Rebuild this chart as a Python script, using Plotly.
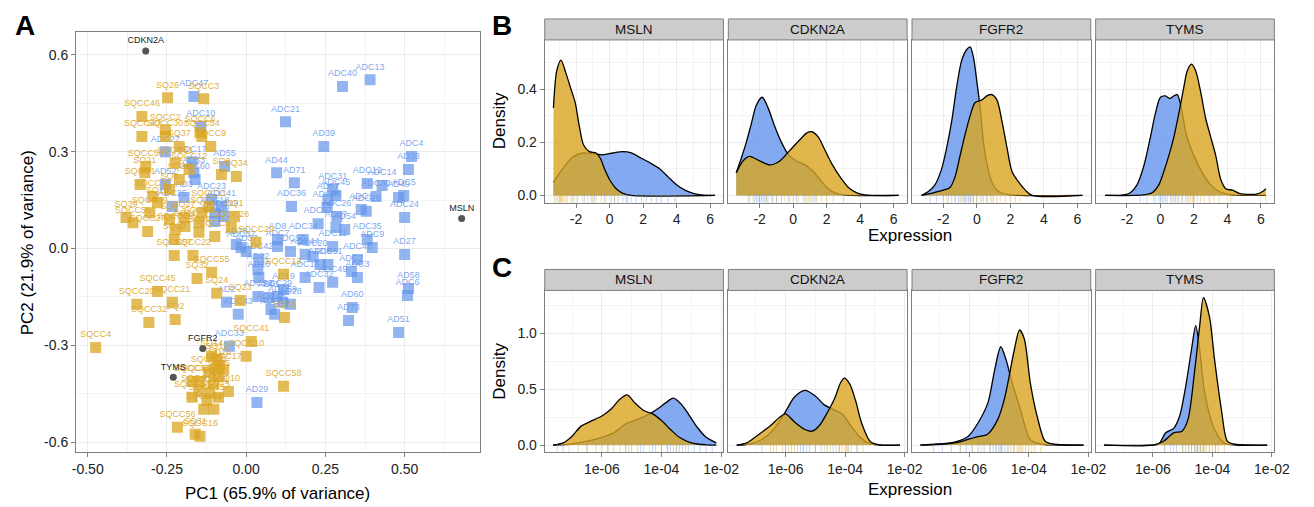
import plotly.graph_objects as go

W, H = 1314, 507
OFF = 8  # default page body margin of the written HTML
FW, FH = W - OFF, H - OFF
BLUE = "100,149,237"
GOLD = "218,165,32"
FONT = "Liberation Sans, Arial, Helvetica, sans-serif"

# ---------------- Panel A: PCA scores ----------------
adc_labels = ["ADC13", "ADC40", "ADC21", "AD39", "ADC4", "AD33", "AD44", "AD71", "ADC31", "ADC45",
              "ADC36", "AD57", "ADC38", "ADC26", "ADC57", "AD54", "AD67", "ADC12", "ADC14", "ADC30",
              "AD40", "ADC5", "ADC1", "ADC28", "ADC24", "AD27", "AD58", "ADC6", "AD51", "AD60",
              "AD73", "AD29", "ADC35", "ADC9", "ADC46", "ADC3", "ADC2", "ADC49", "ADC32", "ADC16",
              "ADC51", "ADC20", "ADC44", "ADC11", "ADC34", "AD8", "ADC7", "ADC42", "AD37", "AD22",
              "AD10", "AD61", "ADC48", "ADC59", "AD28", "ADC29", "ADC43", "AD2", "ADC52", "ADC33",
              "ADC47", "ADC10", "ADC27", "ADC17", "AD55", "AD53", "ADC60", "AD52", "AD3", "ADC23",
              "ADC41", "ADC18", "ADC25", "ADC19", "ADC39", "AD78", "ADC37", "ADC50", "ADC8", "AD19",
              "ADC15"]
adc_pc1 = [0.391, 0.304, 0.124, 0.245, 0.522, 0.512, 0.096, 0.152, 0.273, 0.283,
           0.143, 0.258, 0.255, 0.286, 0.227, 0.311, 0.283, 0.382, 0.429, 0.410,
           0.481, 0.497, 0.363, 0.379, 0.500, 0.500, 0.512, 0.509, 0.481, 0.335,
           0.323, 0.034, 0.382, 0.398, 0.351, 0.351, 0.332, 0.273, 0.230, 0.186,
           0.258, 0.211, 0.186, 0.273, 0.180, 0.099, 0.099, 0.040, 0.000, 0.037,
           0.040, 0.071, 0.078, 0.115, 0.140, 0.099, -0.025, -0.062, 0.037, -0.053,
           -0.165, -0.143, -0.255, -0.171, -0.068, -0.165, -0.161, -0.255, -0.196, -0.109,
           -0.078, -0.099, -0.233, -0.071, -0.099, -0.031, -0.016, 0.140, 0.233, 0.118,
           0.090]
adc_pc2 = [0.523, 0.502, 0.393, 0.316, 0.285, 0.245, 0.235, 0.204, 0.183, 0.164,
           0.130, 0.152, 0.127, 0.099, 0.077, 0.059, 0.065, 0.201, 0.195, 0.161,
           0.158, 0.164, 0.121, 0.115, 0.096, -0.019, -0.124, -0.146, -0.260, -0.183,
           -0.223, -0.477, 0.028, 0.003, -0.034, -0.090, -0.071, -0.105, -0.121, -0.090,
           -0.050, -0.025, -0.019, 0.006, 0.028, 0.028, 0.006, -0.034, -0.009, -0.065,
           -0.090, -0.152, -0.189, -0.167, -0.173, -0.149, -0.204, -0.167, -0.149, -0.303,
           0.471, 0.378, 0.300, 0.269, 0.254, 0.235, 0.214, 0.198, 0.158, 0.152,
           0.130, 0.111, 0.130, 0.099, 0.084, 0.012, 0.003, -0.009, -0.050, -0.127,
           -0.204]

sq_labels = ["SQ26", "SQCC3", "SQCC46", "SQCC2", "SQCC40", "SQCC30", "SQCC6", "SQ37", "SQCC54", "SQCC9",
             "SQ34", "SQ9", "SQCC50", "SQ21", "SQCC1", "SQCC12", "SQCC51", "SQ30", "SQCC36", "SQ8",
             "SQ13", "SQ39", "SQCC59", "SQCC39", "SQCC27", "SQCC28", "SQ6", "SQ27", "SQ11", "SQ17",
             "SQCC8", "SQ36", "SQCC5", "SQ19", "SQCC26", "SQ1", "SQCC11", "SQCC22", "SQCC57", "SQCC55",
             "SQ32", "SQ24", "SQ23", "SQCC45", "SQCC21", "SQCC20", "SQCC32", "SQ2", "SQCC4", "SQCC13",
             "SQ33", "SQCC29", "SQCC41", "SQCC10", "SQCC58", "SQ14", "SQ12", "SQ18", "SQ5", "SQCC17",
             "SQCC23", "SQ35", "SQCC33", "SQCC35", "SQ16", "SQ10", "SQCC19", "SQCC38", "SQCC24", "SQ15",
             "SQCC15", "SQCC31", "SQ4", "SQCC56", "SQ31", "SQCC16"]
sq_pc1 = [-0.248, -0.134, -0.329, -0.255, -0.329, -0.255, -0.146, -0.211, -0.140, -0.112,
          -0.031, -0.078, -0.317, -0.320, -0.335, -0.180, -0.224, -0.211, -0.295, -0.242,
          -0.280, -0.379, -0.357, -0.304, -0.311, -0.224, -0.242, -0.196, -0.193, -0.140,
          -0.149, -0.149, -0.099, -0.227, -0.047, -0.037, -0.118, -0.168, -0.227, -0.109,
          -0.155, -0.093, -0.019, -0.280, -0.233, -0.345, -0.307, -0.224, -0.475, 0.118,
          0.121, 0.031, 0.016, 0.000, 0.118, -0.109, -0.093, -0.084, -0.099, -0.071,
          -0.118, -0.087, -0.171, -0.146, -0.102, -0.056, -0.149, -0.115, -0.171, -0.087,
          -0.124, -0.134, -0.102, -0.217, -0.161, -0.146]
sq_pc2 = [0.467, 0.464, 0.409, 0.368, 0.347, 0.347, 0.359, 0.316, 0.347, 0.316,
          0.223, 0.229, 0.254, 0.235, 0.198, 0.245, 0.266, 0.214, 0.161, 0.183,
          0.142, 0.096, 0.080, 0.111, 0.053, 0.059, 0.090, 0.096, 0.068, 0.111,
          0.080, 0.050, 0.037, 0.028, 0.065, 0.099, 0.130, -0.022, -0.022, -0.074,
          -0.093, -0.139, -0.161, -0.133, -0.167, -0.173, -0.229, -0.220, -0.307, -0.080,
          -0.214, 0.019, -0.288, -0.334, -0.427, -0.334, -0.344, -0.362, -0.375, -0.375,
          -0.384, -0.396, -0.412, -0.412, -0.418, -0.443, -0.443, -0.446, -0.461, -0.461,
          -0.471, -0.498, -0.498, -0.554, -0.576, -0.582]

gene_labels = ["CDKN2A", "MSLN", "FGFR2", "TYMS"]
gene_pc1 = [-0.317, 0.680, -0.137, -0.230]
gene_pc2 = [0.612, 0.093, -0.310, -0.399]

# ---------------- Panel B: densities (normalised expression) ----------------
b_msln_adc_x = [-3.35, -2.8, -2.2, -1.6, -1.0, -0.4, 0.2, 0.8, 1.3, 1.9, 2.5, 3.0, 3.5, 4.0, 4.5, 5.0, 5.5, 6.3]
b_msln_adc_y = [0.05, 0.10, 0.145, 0.16, 0.158, 0.153, 0.16, 0.165, 0.16, 0.14, 0.12, 0.10, 0.07, 0.04, 0.02, 0.008, 0.002, 0.0]
b_msln_sq_x = [-3.35, -3.15, -2.9, -2.6, -2.3, -2.05, -1.8, -1.55, -1.2, -0.8, -0.55, -0.3, 0.0, 0.4, 0.8, 1.3, 6.3]
b_msln_sq_y = [0.33, 0.47, 0.51, 0.46, 0.40, 0.35, 0.26, 0.19, 0.165, 0.16, 0.14, 0.10, 0.06, 0.025, 0.008, 0.0, 0.0]

b_cdkn2a_adc_x = [-3.4, -3.1, -2.8, -2.5, -2.2, -1.85, -1.5, -1.1, -0.7, -0.3, 0.2, 0.7, 1.2, 1.6, 2.0, 2.5, 3.0, 6.3]
b_cdkn2a_adc_y = [0.085, 0.14, 0.20, 0.27, 0.34, 0.37, 0.33, 0.26, 0.20, 0.155, 0.13, 0.115, 0.09, 0.06, 0.03, 0.01, 0.002, 0.0]
b_cdkn2a_sq_x = [-3.4, -3.0, -2.6, -2.0, -1.4, -0.8, -0.2, 0.4, 0.8, 1.1, 1.5, 1.9, 2.3, 2.8, 3.3, 3.8, 4.3, 6.3]
b_cdkn2a_sq_y = [0.085, 0.13, 0.147, 0.13, 0.115, 0.13, 0.17, 0.21, 0.235, 0.24, 0.22, 0.17, 0.12, 0.07, 0.03, 0.01, 0.002, 0.0]

b_fgfr2_adc_x = [-3.3, -2.9, -2.5, -2.1, -1.8, -1.5, -1.2, -0.9, -0.6, -0.4, -0.2, 0.0, 0.2, 0.4, 0.6, 0.9, 1.3, 1.8, 2.5, 6.3]
b_fgfr2_adc_y = [0.0, 0.015, 0.04, 0.10, 0.18, 0.28, 0.41, 0.51, 0.55, 0.56, 0.52, 0.43, 0.33, 0.20, 0.12, 0.05, 0.015, 0.004, 0.0, 0.0]
b_fgfr2_sq_x = [-3.3, -2.6, -2.0, -1.6, -1.3, -1.0, -0.7, -0.4, -0.1, 0.3, 0.6, 0.9, 1.2, 1.5, 1.8, 2.1, 2.5, 2.9, 3.3, 6.3]
b_fgfr2_sq_y = [0.0, 0.01, 0.02, 0.03, 0.07, 0.15, 0.23, 0.30, 0.35, 0.36, 0.375, 0.38, 0.36, 0.28, 0.18, 0.09, 0.05, 0.02, 0.0, 0.0]

b_tyms_adc_x = [-3.3, -2.2, -1.8, -1.4, -1.0, -0.6, -0.3, 0.0, 0.3, 0.55, 0.8, 1.0, 1.25, 1.5, 1.8, 2.1, 2.5, 3.0, 3.5, 4.0, 4.5, 6.3]
b_tyms_adc_y = [0.0, 0.002, 0.01, 0.04, 0.11, 0.22, 0.31, 0.37, 0.375, 0.365, 0.375, 0.38, 0.33, 0.24, 0.18, 0.135, 0.085, 0.04, 0.015, 0.005, 0.001, 0.0]
b_tyms_sq_x = [-3.3, -1.0, -0.5, -0.1, 0.2, 0.5, 0.8, 1.1, 1.4, 1.6, 1.85, 2.1, 2.4, 2.7, 3.0, 3.3, 3.6, 3.9, 4.3, 4.7, 5.2, 5.8, 6.1, 6.3]
b_tyms_sq_y = [0.0, 0.002, 0.01, 0.04, 0.09, 0.15, 0.22, 0.31, 0.41, 0.47, 0.495, 0.47, 0.39, 0.29, 0.22, 0.15, 0.06, 0.025, 0.02, 0.008, 0.004, 0.006, 0.015, 0.025]

# rug values (normalised expression)
b_msln_adc_rug = [-2.2, -1.5, -1.1, -0.9, -0.3, 0.1, 0.3, 0.5, 0.8, 1.0, 1.1, 1.3, 1.6, 1.9, 2.2, 2.5, 2.8, 3.1, 3.5, 3.9]
b_msln_sq_rug = [-3.3, -3.2, -3.1, -3.0, -2.95, -2.9, -2.85, -2.8, -2.7, -2.6, -2.5, -2.3, -2.1, -1.9, -1.6, -1.3, -1.0, -0.8, -0.5, -0.2, 0.3]
b_cdkn2a_adc_rug = [-2.6, -2.3, -2.2, -2.1, -2.0, -1.9, -1.8, -1.7, -1.6, -1.5, -1.3, -1.2, -1.0, -0.7, -0.3, 0.2, 0.7, 1.3]
b_cdkn2a_sq_rug = [-2.7, -2.4, -2.0, -1.6, -1.0, -0.5, -0.2, 0.0, 0.3, 0.6, 0.8, 0.9, 1.0, 1.1, 1.2, 1.4, 1.7, 2.0, 2.4, 3.0]
b_fgfr2_adc_rug = [-2.8, -2.4, -2.0, -1.7, -1.5, -1.3, -1.1, -0.9, -0.8, -0.7, -0.6, -0.5, -0.4, -0.3, -0.2, 0.0, 0.3, 0.6]
b_fgfr2_sq_rug = [-1.8, -1.3, -1.0, -0.7, -0.4, -0.2, 0.0, 0.2, 0.4, 0.6, 0.8, 0.9, 1.0, 1.2, 1.4, 1.7, 2.0, 2.3, 2.6]
b_tyms_adc_rug = [-1.2, -0.8, -0.4, -0.1, 0.0, 0.1, 0.2, 0.4, 0.6, 0.8, 0.9, 1.1, 1.3, 1.6, 2.0]
b_tyms_sq_rug = [-0.3, 0.3, 0.7, 1.0, 1.3, 1.5, 1.7, 1.8, 1.9, 2.0, 2.2, 2.4, 2.6, 2.9, 3.2, 3.5, 4.2, 6.3]

# ---------------- Panel C: densities (log10 raw expression) ----------------
c_msln_adc_x = [-7.64, -7.0, -6.5, -6.0, -5.6, -5.2, -4.8, -4.4, -4.1, -3.85, -3.6, -3.35, -3.1, -2.8, -2.5, -2.16]
c_msln_adc_y = [0.0, 0.01, 0.035, 0.07, 0.11, 0.19, 0.23, 0.28, 0.33, 0.38, 0.42, 0.37, 0.28, 0.16, 0.07, 0.02]
c_msln_sq_x = [-7.64, -7.3, -7.0, -6.7, -6.4, -6.0, -5.7, -5.4, -5.15, -4.9, -4.6, -4.3, -4.0, -3.7, -3.4, -3.1, -2.8, -2.5, -2.16]
c_msln_sq_y = [0.0, 0.02, 0.08, 0.17, 0.21, 0.26, 0.32, 0.41, 0.45, 0.38, 0.31, 0.28, 0.22, 0.14, 0.07, 0.03, 0.01, 0.003, 0.0]

c_cdkn2a_adc_x = [-7.64, -7.2, -6.8, -6.4, -6.0, -5.7, -5.35, -5.0, -4.7, -4.4, -4.1, -3.8, -3.5, -3.2, -2.9, -2.16]
c_cdkn2a_adc_y = [0.0, 0.01, 0.05, 0.14, 0.30, 0.43, 0.49, 0.44, 0.36, 0.32, 0.28, 0.17, 0.07, 0.015, 0.002, 0.0]
c_cdkn2a_sq_x = [-7.64, -7.3, -6.98, -6.52, -6.2, -6.0, -5.67, -5.35, -5.1, -4.85, -4.6, -4.35, -4.15, -4.03, -3.85, -3.65, -3.45, -3.15, -2.8, -2.16]
c_cdkn2a_sq_y = [0.0, 0.02, 0.08, 0.17, 0.25, 0.28, 0.20, 0.14, 0.125, 0.18, 0.29, 0.42, 0.56, 0.60, 0.55, 0.40, 0.20, 0.03, 0.0, 0.0]

c_fgfr2_adc_x = [-7.64, -7.03, -6.46, -6.03, -5.7, -5.37, -5.14, -4.94, -4.77, -4.55, -4.28, -3.95, -3.6, -3.2, -2.16]
c_fgfr2_adc_y = [0.0, 0.01, 0.03, 0.08, 0.20, 0.38, 0.68, 0.88, 0.77, 0.55, 0.32, 0.05, 0.01, 0.002, 0.0]
c_fgfr2_sq_x = [-7.64, -6.8, -6.3, -5.8, -5.37, -5.04, -4.85, -4.7, -4.48, -4.31, -4.15, -3.95, -3.72, -3.45, -3.2, -2.16]
c_fgfr2_sq_y = [0.0, 0.01, 0.03, 0.07, 0.10, 0.23, 0.38, 0.56, 0.86, 1.03, 0.95, 0.56, 0.26, 0.035, 0.01, 0.0]

c_tyms_adc_x = [-7.64, -6.2, -5.8, -5.57, -5.3, -5.1, -4.9, -4.7, -4.56, -4.43, -4.26, -3.93, -3.6, -3.2, -2.16]
c_tyms_adc_y = [0.0, 0.0, 0.01, 0.11, 0.15, 0.26, 0.52, 0.86, 1.07, 0.86, 0.47, 0.14, 0.02, 0.0, 0.0]
c_tyms_sq_x = [-7.64, -6.0, -5.67, -5.3, -5.02, -4.82, -4.59, -4.43, -4.3, -4.1, -3.93, -3.7, -3.5, -3.3, -2.16]
c_tyms_sq_y = [0.0, 0.0, 0.03, 0.11, 0.125, 0.23, 0.68, 1.06, 1.32, 1.15, 0.77, 0.32, 0.035, 0.01, 0.0]

c_msln_adc_rug = [-7.3, -6.5, -5.8, -5.2, -4.7, -4.3, -4.0, -3.8, -3.7, -3.6, -3.5, -3.4, -3.3, -3.1, -2.9, -2.7, -2.5, -2.3]
c_msln_sq_rug = [-7.5, -7.1, -6.8, -6.5, -6.2, -6.0, -5.8, -5.6, -5.4, -5.2, -5.1, -5.0, -4.8, -4.6, -4.4, -4.2, -4.0, -3.8, -3.5, -3.2]
c_cdkn2a_adc_rug = [-6.4, -6.0, -5.8, -5.6, -5.5, -5.4, -5.3, -5.2, -5.0, -4.8, -4.6, -4.4, -4.2, -3.9, -3.6]
c_cdkn2a_sq_rug = [-6.8, -6.5, -6.3, -6.1, -6.0, -5.9, -5.7, -5.4, -5.0, -4.7, -4.5, -4.3, -4.2, -4.1, -4.0, -3.95, -3.9, -3.8, -3.6, -3.4]
c_fgfr2_adc_rug = [-7.2, -6.9, -6.6, -6.3, -6.1, -5.9, -5.7, -5.5, -5.3, -5.2, -5.1, -5.0, -4.95, -4.9, -4.8, -4.7, -4.5]
c_fgfr2_sq_rug = [-6.3, -5.9, -5.6, -5.3, -5.1, -4.9, -4.7, -4.6, -4.5, -4.4, -4.35, -4.3, -4.25, -4.2, -4.1, -4.0, -3.9, -3.8, -3.6]
c_tyms_adc_rug = [-5.6, -5.4, -5.2, -5.0, -4.9, -4.8, -4.7, -4.6, -4.55, -4.5, -4.4, -4.3, -4.1, -3.9]
c_tyms_sq_rug = [-5.6, -5.3, -5.0, -4.8, -4.7, -4.6, -4.5, -4.45, -4.4, -4.35, -4.3, -4.25, -4.2, -4.1, -4.0, -3.9, -3.8, -3.6]

facet_genes = ["MSLN", "CDKN2A", "FGFR2", "TYMS"]
b_tick_vals = [-2, 0, 2, 4, 6]
b_tick_text = ["-2", "0", "2", "4", "6"]
c_tick_vals = [-6, -4, -2]
c_tick_text = ["1e-06", "1e-04", "1e-02"]

b_curves = [
    (b_msln_adc_x, b_msln_adc_y, b_msln_sq_x, b_msln_sq_y, b_msln_adc_rug, b_msln_sq_rug),
    (b_cdkn2a_adc_x, b_cdkn2a_adc_y, b_cdkn2a_sq_x, b_cdkn2a_sq_y, b_cdkn2a_adc_rug, b_cdkn2a_sq_rug),
    (b_fgfr2_adc_x, b_fgfr2_adc_y, b_fgfr2_sq_x, b_fgfr2_sq_y, b_fgfr2_adc_rug, b_fgfr2_sq_rug),
    (b_tyms_adc_x, b_tyms_adc_y, b_tyms_sq_x, b_tyms_sq_y, b_tyms_adc_rug, b_tyms_sq_rug),
]
c_curves = [
    (c_msln_adc_x, c_msln_adc_y, c_msln_sq_x, c_msln_sq_y, c_msln_adc_rug, c_msln_sq_rug),
    (c_cdkn2a_adc_x, c_cdkn2a_adc_y, c_cdkn2a_sq_x, c_cdkn2a_sq_y, c_cdkn2a_adc_rug, c_cdkn2a_sq_rug),
    (c_fgfr2_adc_x, c_fgfr2_adc_y, c_fgfr2_sq_x, c_fgfr2_sq_y, c_fgfr2_adc_rug, c_fgfr2_sq_rug),
    (c_tyms_adc_x, c_tyms_adc_y, c_tyms_sq_x, c_tyms_sq_y, c_tyms_adc_rug, c_tyms_sq_rug),
]


def px_x(px):
    return (px - OFF) / FW


def px_y(py):
    return 1 - (py - OFF) / FH


# ---------------- Build figure ----------------
fig = go.Figure()

# Panel A
fig.add_trace(go.Scatter(x=adc_pc1, y=adc_pc2, mode="markers+text", text=adc_labels,
                         textposition="top center",
                         textfont=dict(size=9, color=f"rgba({BLUE},0.85)", family=FONT),
                         marker=dict(symbol="square", size=11, color=f"rgba({BLUE},0.7)", line=dict(width=0)),
                         xaxis="x", yaxis="y", showlegend=False, hoverinfo="text"))
fig.add_trace(go.Scatter(x=sq_pc1, y=sq_pc2, mode="markers+text", text=sq_labels,
                         textposition="top center",
                         textfont=dict(size=9, color=f"rgba({GOLD},0.9)", family=FONT),
                         marker=dict(symbol="square", size=11, color=f"rgba({GOLD},0.75)", line=dict(width=0)),
                         xaxis="x", yaxis="y", showlegend=False, hoverinfo="text"))
fig.add_trace(go.Scatter(x=gene_pc1, y=gene_pc2, mode="markers+text", text=gene_labels,
                         textposition="top center",
                         textfont=dict(size=9, color="#222222", family=FONT),
                         marker=dict(symbol="circle", size=7, color="#555555"),
                         xaxis="x", yaxis="y", showlegend=False, hoverinfo="text"))


def add_facets(curves, axis_offset, rug_y):
    for i, (ax_, ay_, sx_, sy_, ar_, sr_) in enumerate(curves):
        n = axis_offset + i
        xa, ya = f"x{n}", f"y{n}"
        fig.add_trace(go.Scatter(x=ax_, y=ay_, mode="lines", fill="tozeroy",
                                 line=dict(color="black", width=1.3, shape="spline", smoothing=0.8),
                                 fillcolor=f"rgba({BLUE},0.8)", xaxis=xa, yaxis=ya,
                                 showlegend=False, hoverinfo="skip"))
        fig.add_trace(go.Scatter(x=sx_, y=sy_, mode="lines", fill="tozeroy",
                                 line=dict(color="black", width=1.3, shape="spline", smoothing=0.8),
                                 fillcolor=f"rgba({GOLD},0.8)", xaxis=xa, yaxis=ya,
                                 showlegend=False, hoverinfo="skip"))
        fig.add_trace(go.Scatter(x=ar_, y=[rug_y] * len(ar_), mode="markers",
                                 marker=dict(symbol="line-ns-open", size=7, color=f"rgba({BLUE},0.4)",
                                             line=dict(width=1, color=f"rgba({BLUE},0.4)")),
                                 xaxis=xa, yaxis=ya, showlegend=False, hoverinfo="skip"))
        fig.add_trace(go.Scatter(x=sr_, y=[rug_y] * len(sr_), mode="markers",
                                 marker=dict(symbol="line-ns-open", size=7, color=f"rgba({GOLD},0.4)",
                                             line=dict(width=1, color=f"rgba({GOLD},0.4)")),
                                 xaxis=xa, yaxis=ya, showlegend=False, hoverinfo="skip"))


add_facets(b_curves, 2, -0.014)
add_facets(c_curves, 6, -0.032)

GRID = "#ebebeb"
MINOR = "#f4f4f4"
BORDER = "#7f7f7f"
TICKFONT = dict(size=14, color="#222222", family=FONT)


def axis(domain, rng, tickvals, ticktext, minor_vals, anchor, show_labels=True):
    return dict(domain=domain, range=rng, tickmode="array", tickvals=tickvals, ticktext=ticktext,
                showticklabels=show_labels, ticks="outside" if show_labels else "",
                ticklen=4, tickcolor=BORDER, tickwidth=1,
                showgrid=True, gridcolor=GRID, gridwidth=1, zeroline=False,
                showline=True, mirror=True, linecolor=BORDER, linewidth=1,
                minor=dict(tickmode="array", tickvals=minor_vals, showgrid=True, gridcolor=MINOR, ticks=""),
                tickfont=TICKFONT, anchor=anchor, fixedrange=True)


layout = dict(width=FW, height=FH, margin=dict(l=0, r=0, t=0, b=0),
              paper_bgcolor="white", plot_bgcolor="white", showlegend=False,
              font=dict(family=FONT))

layout["xaxis"] = axis([px_x(73), px_x(483)], [-0.537, 0.737], [-0.5, -0.25, 0, 0.25, 0.5],
                       ["-0.50", "-0.25", "0.00", "0.25", "0.50"], [-0.375, -0.125, 0.125, 0.375, 0.625], "y")
layout["yaxis"] = axis([px_y(453), px_y(32)], [-0.631, 0.671], [-0.6, -0.3, 0, 0.3, 0.6],
                       ["-0.6", "-0.3", "0.0", "0.3", "0.6"], [-0.45, -0.15, 0.15, 0.45], "x")

lefts = [549, 735.5, 922, 1108.5]
fw = 181.5
b_dom = [px_y(203), px_y(40)]
c_dom = [px_y(453), px_y(291)]
shapes = []
annotations = []
for i, l in enumerate(lefts):
    xd = [px_x(l), px_x(l + fw)]
    nb, nc = 2 + i, 6 + i
    layout[f"xaxis{nb}"] = axis(xd, [-3.87, 6.80], b_tick_vals, b_tick_text, [-3, -1, 1, 3, 5], f"y{nb}")
    layout[f"yaxis{nb}"] = axis(b_dom, [-0.027, 0.586], [0, 0.2, 0.4], ["0.0", "0.2", "0.4"],
                                [0.1, 0.3, 0.5], f"x{nb}", show_labels=(i == 0))
    layout[f"xaxis{nc}"] = axis(xd, [-7.92, -1.92], c_tick_vals, c_tick_text, [-7, -5, -3], f"y{nc}")
    layout[f"yaxis{nc}"] = axis(c_dom, [-0.0625, 1.384], [0, 0.5, 1.0], ["0.0", "0.5", "1.0"],
                                [0.25, 0.75, 1.25], f"x{nc}", show_labels=(i == 0))
    for (top, bot) in [(19, 40), (270, 291)]:
        shapes.append(dict(type="rect", xref="paper", yref="paper", x0=xd[0], x1=xd[1],
                           y0=px_y(bot), y1=px_y(top), fillcolor="#cccccc",
                           line=dict(color=BORDER, width=1), layer="above"))
        annotations.append(dict(x=(xd[0] + xd[1]) / 2, y=px_y((top + bot) / 2), xref="paper", yref="paper",
                                text=facet_genes[i], showarrow=False,
                                font=dict(size=13.5, color="#111111", family=FONT),
                                xanchor="center", yanchor="middle"))


def ann(text, x, y, size, angle=0, bold=False, yanchor="middle"):
    t = f"<b>{text}</b>" if bold else text
    annotations.append(dict(x=px_x(x), y=min(px_y(y), 1.0), xref="paper", yref="paper", text=t,
                            showarrow=False, textangle=angle,
                            font=dict(size=size, color="black", family=FONT),
                            xanchor="center", yanchor=yanchor))


# panel letters: top of the text box sits at the top of the figure area
ann("A", 21, 8, 28, bold=True, yanchor="top")
ann("B", 506, 8, 28, bold=True, yanchor="top")
ann("C", 506, 268, 28, bold=True)
ann("PC1 (65.9% of variance)", 278, 494, 17)
ann("PC2 (21.9% of variance)", 24, 243, 17, angle=-90)
ann("Density", 503, 121, 17, angle=-90)
ann("Density", 503, 372, 17, angle=-90)
ann("Expression", 920, 236, 17)
ann("Expression", 920, 490, 17)

layout["shapes"] = shapes
layout["annotations"] = annotations
fig.update_layout(**layout)
fig.write_html("out.html")
